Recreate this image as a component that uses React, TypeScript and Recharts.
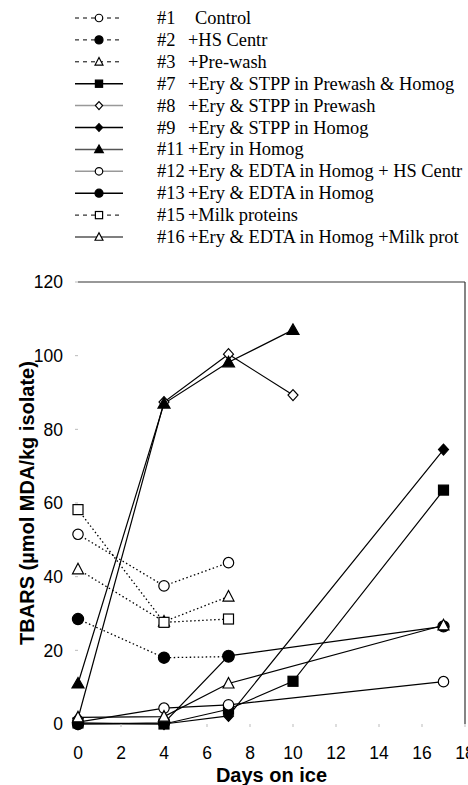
import React from 'react';
import { LineChart, Line, XAxis, YAxis, ReferenceLine } from 'recharts';

const days = [0, 4, 7, 10, 17];
const xTicks = [0, 2, 4, 6, 8, 10, 12, 14, 16, 18];
const yTicks = [0, 20, 40, 60, 80, 100, 120];

const s1 = [51.5, 37.5, 43.8, null, null];
const s2 = [28.5, 18, 18.3, null, null];
const s3 = [42, 27.8, 34.6, null, null];
const s7 = [0.3, 0, 4, 11.6, 63.5];
const s8 = [1.5, 87.4, 100.4, 89.3, null];
const s9 = [0, 0, 2.2, null, 74.5];
const s11 = [11, 87, 98.2, 107, null];
const s12 = [0.5, 4.3, 5.2, null, 11.5];
const s13 = [0, 0.3, 18.5, null, 26.5];
const s15 = [58.2, 27.6, 28.5, null, null];
const s16 = [1.8, 2, 11, null, 26.8];

type Shape = 'circle' | 'square' | 'triangle' | 'diamond';

interface SeriesDef {
  key: string;
  values: (number | null)[];
  num: string;
  name: string;
  shape: Shape;
  filled: boolean;
  dashed: boolean;
  legendColor: string;
}

const series: SeriesDef[] = [
  { key: 's1', values: s1, num: '#1', name: 'Control', shape: 'circle', filled: false, dashed: true, legendColor: '#000' },
  { key: 's2', values: s2, num: '#2', name: '+HS Centr', shape: 'circle', filled: true, dashed: true, legendColor: '#000' },
  { key: 's3', values: s3, num: '#3', name: '+Pre-wash', shape: 'triangle', filled: false, dashed: true, legendColor: '#000' },
  { key: 's7', values: s7, num: '#7', name: '+Ery & STPP in Prewash & Homog', shape: 'square', filled: true, dashed: false, legendColor: '#000' },
  { key: 's8', values: s8, num: '#8', name: '+Ery & STPP in Prewash', shape: 'diamond', filled: false, dashed: false, legendColor: '#999' },
  { key: 's9', values: s9, num: '#9', name: '+Ery & STPP in Homog', shape: 'diamond', filled: true, dashed: false, legendColor: '#000' },
  { key: 's11', values: s11, num: '#11', name: '+Ery in Homog', shape: 'triangle', filled: true, dashed: false, legendColor: '#555' },
  { key: 's12', values: s12, num: '#12', name: '+Ery & EDTA in Homog + HS Centr', shape: 'circle', filled: false, dashed: false, legendColor: '#999' },
  { key: 's13', values: s13, num: '#13', name: '+Ery & EDTA in Homog', shape: 'circle', filled: true, dashed: false, legendColor: '#000' },
  { key: 's15', values: s15, num: '#15', name: '+Milk proteins', shape: 'square', filled: false, dashed: true, legendColor: '#000' },
  { key: 's16', values: s16, num: '#16', name: '+Ery & EDTA in Homog +Milk prot', shape: 'triangle', filled: false, dashed: false, legendColor: '#555' },
];

const data = days.map((day, i) => {
  const row: Record<string, number | null> = { day };
  series.forEach(s => {
    row[s.key] = s.values[i];
  });
  return row;
});

const sans = '"Liberation Sans", Arial, sans-serif';
const serif = '"Liberation Serif", "Times New Roman", serif';

function marker(shape: Shape, filled: boolean, cx: number, cy: number, k: number, key?: string) {
  const fill = filled ? '#000' : '#fff';
  const sw = 1.2;
  if (shape === 'circle') {
    return <circle key={key} cx={cx} cy={cy} r={(filled ? 5.6 : 5.2) * k} fill={fill} stroke="#000" strokeWidth={sw} />;
  }
  if (shape === 'square') {
    const h = 5 * k;
    return <rect key={key} x={cx - h} y={cy - h} width={2 * h} height={2 * h} fill={fill} stroke="#000" strokeWidth={sw} />;
  }
  if (shape === 'triangle') {
    const w = (filled ? 6 : 5.5) * k;
    const pts = `${cx},${cy - 6 * k} ${cx - w},${cy + 4.5 * k} ${cx + w},${cy + 4.5 * k}`;
    return <polygon key={key} points={pts} fill={fill} stroke="#000" strokeWidth={sw} />;
  }
  const w = 5 * k;
  const hh = 5.5 * k;
  const pts = `${cx},${cy - hh} ${cx + w},${cy} ${cx},${cy + hh} ${cx - w},${cy}`;
  return <polygon key={key} points={pts} fill={fill} stroke="#000" strokeWidth={sw} />;
}

function makeDot(s: SeriesDef) {
  return (props: any) => {
    const { cx, cy, index } = props;
    const key = `${s.key}-${index}`;
    if (cx == null || cy == null || props.value == null) return <g key={key} />;
    return marker(s.shape, s.filled, cx, cy, 1, key);
  };
}

function TopLegend() {
  return (
    <svg width={468} height={260} style={{ position: 'absolute', left: 0, top: 0 }}>
      {series.map((s, i) => {
        const cy = 18 + 21.9 * i;
        const nameX = s.num === '#1' ? 195 : 188;
        return (
          <g key={s.key}>
            <line
              x1={75}
              x2={123}
              y1={cy}
              y2={cy}
              stroke={s.legendColor}
              strokeWidth={s.dashed ? 1 : 1.5}
              strokeDasharray={s.dashed ? '4 4' : undefined}
            />
            {marker(s.shape, s.filled, 99, cy, 0.72)}
            <text x={157} y={cy + 6} fontFamily={serif} fontSize={18.4} fill="#000">
              {s.num}
            </text>
            <text x={nameX} y={cy + 6} fontFamily={serif} fontSize={18.4} fill="#000">
              {s.name}
            </text>
          </g>
        );
      })}
    </svg>
  );
}

export default function App() {
  return (
    <div style={{ position: 'absolute', left: 0, top: 0, width: 468, height: 785, background: '#fff' }}>
      <TopLegend />
      <LineChart width={468} height={785} data={data} margin={{ top: 282, right: 3, bottom: 0, left: 0 }}>
        <XAxis
          dataKey="day"
          type="number"
          domain={[0, 18]}
          ticks={xTicks}
          interval={0}
          height={61}
          axisLine={false}
          tickLine={{ stroke: '#bbb' }}
          tickSize={3}
          tickMargin={20}
          tick={{ fill: '#000', fontSize: 17.5, fontFamily: sans }}
          label={{ value: 'Days on ice', position: 'insideBottom', offset: 3, style: { fontWeight: 'bold', fontSize: 20, fontFamily: sans, fill: '#000' } }}
        />
        <YAxis
          type="number"
          domain={[0, 120]}
          ticks={yTicks}
          interval={0}
          width={78}
          axisLine={false}
          tickLine={{ stroke: '#bbb' }}
          tickSize={3}
          tickMargin={12}
          tick={{ fill: '#000', fontSize: 17.5, fontFamily: sans }}
          label={{
            value: 'TBARS (µmol MDA/kg isolate)',
            angle: -90,
            position: 'insideLeft',
            offset: 27,
            style: { textAnchor: 'middle', fontWeight: 'bold', fontSize: 20, fontFamily: sans, fill: '#000' },
          }}
        />
        <ReferenceLine y={120} stroke="#333" strokeWidth={1.2} />
        <ReferenceLine x={18} stroke="#333" strokeWidth={1.2} />
        {series.map(s => (
          <Line
            key={s.key}
            dataKey={s.key}
            type="linear"
            stroke="#000"
            strokeWidth={s.dashed ? 1.3 : 1.2}
            strokeDasharray={s.dashed ? '1.5 2.5' : undefined}
            connectNulls
            dot={makeDot(s)}
            activeDot={false}
            isAnimationActive={false}
          />
        ))}
      </LineChart>
    </div>
  );
}
